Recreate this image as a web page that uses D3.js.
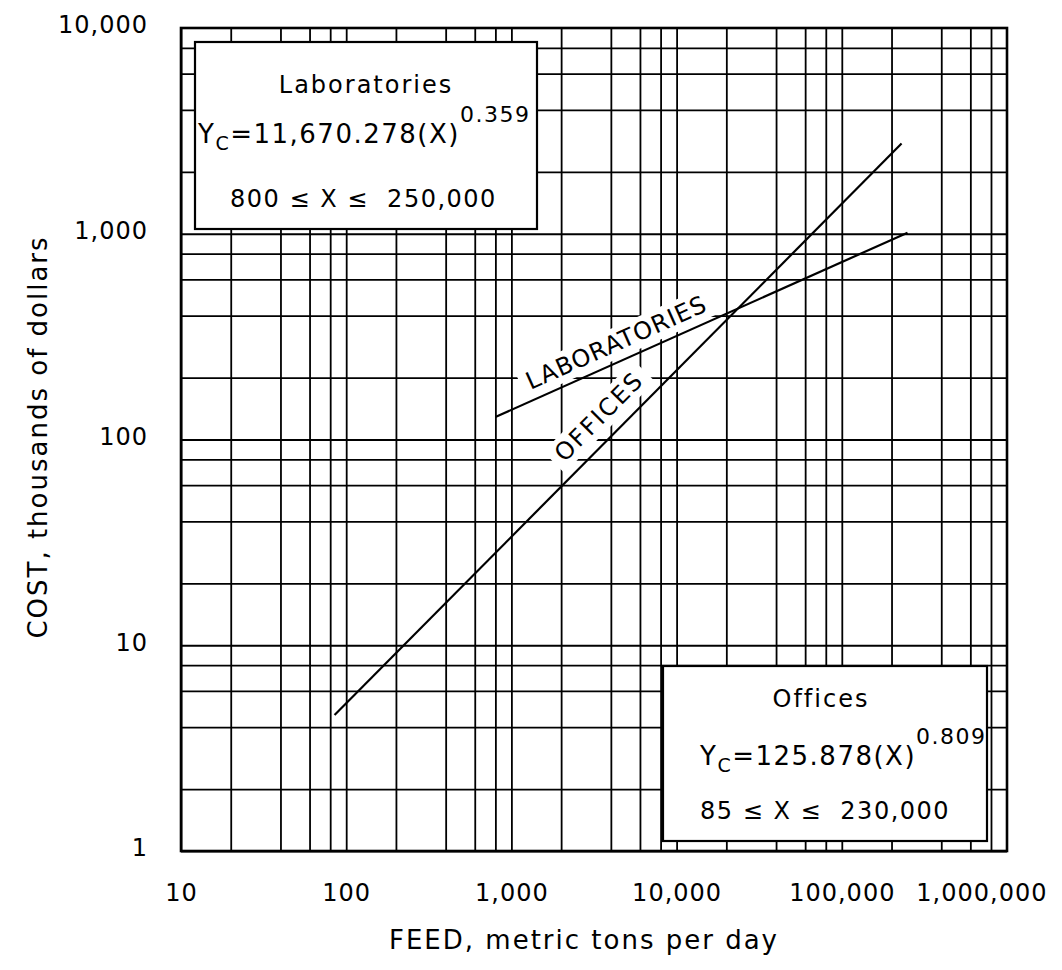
<!DOCTYPE html>
<html>
<head>
<meta charset="utf-8">
<script src="https://cdn.jsdelivr.net/npm/d3@7"></script>
<style>
  body { margin: 0; background: #fff; }
  text { font-family: "DejaVu Sans", sans-serif; fill: #000; }
</style>
</head>
<body>
<svg id="chart" width="1062" height="970"></svg>
<script>
// decade labels on both axes
var xTicks = [10, 100, 1000, 10000, 100000, 1000000];
var yTicks = [1, 10, 100, 1000, 10000];
// grid lines inside each decade
var gridSteps = [1, 2, 4, 6, 8];

// end points of the two straight (log-log) cost lines, [feed, cost]
var labPoints = [[800, 128.6], [250000, 1012]];
var officePoints = [[85, 4.58], [230000, 2743]];

// box texts
var boxTitles = ["Laboratories", "Offices"];
var boxCoefs = ["11,670.278", "125.878"];
var boxExps = ["0.359", "0.809"];
var boxLow = ["800", "85"];
var boxHigh = ["250,000", "230,000"];
var lineNames = ["LABORATORIES", "OFFICES"];

var svg = d3.select("#chart");
var plotL = 181, plotR = 1007, plotT = 28, plotB = 851;

var x = d3.scaleLog().domain([10, 1000000]).range([plotL, plotR]);
var y = d3.scaleLog().domain([1, 10000]).range([plotB, plotT]);

var gridX = [], gridY = [];
xTicks.forEach(function(d, i) {
    if (i < xTicks.length - 1) gridSteps.forEach(function(m) { gridX.push(d * m); });
});
yTicks.forEach(function(d, i) {
    if (i < yTicks.length - 1) gridSteps.forEach(function(m) { gridY.push(d * m); });
});

// grid
var gx = svg.append("g")
    .attr("transform", "translate(0," + plotB + ")")
    .call(d3.axisBottom(x).tickValues(gridX).tickSize(-(plotB - plotT)).tickFormat(""));
var gy = svg.append("g")
    .attr("transform", "translate(" + plotL + ",0)")
    .call(d3.axisLeft(y).tickValues(gridY).tickSize(-(plotR - plotL)).tickFormat(""));
[gx, gy].forEach(function(g) {
    g.select(".domain").remove();
    g.selectAll("line").attr("stroke", "#000").attr("stroke-width", 1.8);
});

// frame
svg.append("rect")
    .attr("x", plotL).attr("y", plotT)
    .attr("width", plotR - plotL).attr("height", plotB - plotT)
    .attr("fill", "none").attr("stroke", "#000").attr("stroke-width", 2.6);

// tick labels
var xl = svg.append("g")
    .attr("transform", "translate(0," + plotB + ")")
    .call(d3.axisBottom(x).tickValues(xTicks).tickSize(0).tickFormat(d3.format(",")));
xl.select(".domain").remove();
xl.selectAll("text")
    .attr("y", 41).attr("dy", "0.36em")
    .attr("font-family", "DejaVu Sans").attr("font-size", 24)
    .attr("letter-spacing", 1).attr("fill", "#000");
xl.selectAll(".tick").filter(function(d) { return d === 1000000; })
    .select("text").attr("text-anchor", "end").attr("x", 1047 - x(1000000));

var yl = svg.append("g")
    .attr("transform", "translate(" + plotL + ",0)")
    .call(d3.axisLeft(y).tickValues(yTicks).tickSize(0).tickFormat(d3.format(",")));
yl.select(".domain").remove();
yl.selectAll("text")
    .attr("x", -33).attr("dy", "0.2em")
    .attr("font-family", "DejaVu Sans").attr("font-size", 24)
    .attr("letter-spacing", 1).attr("fill", "#000");

// axis titles
svg.append("text")
    .attr("x", 584).attr("y", 949)
    .attr("text-anchor", "middle")
    .attr("font-size", 26).attr("letter-spacing", 2)
    .text("FEED, metric tons per day");
svg.append("text")
    .attr("transform", "translate(47,437) rotate(-90)")
    .attr("text-anchor", "middle")
    .attr("font-size", 26).attr("letter-spacing", 2)
    .text("COST, thousands of dollars");

// white patches behind the line labels break the grid
var series = [
    { pts: labPoints, name: lineNames[0], at: 4800, off: 19, ls: 1 },
    { pts: officePoints, name: lineNames[1], at: 4236, off: 23, ls: 2 }
];
var patchLayer = svg.append("g");
var lineLayer = svg.append("g");
var labelLayer = svg.append("g");

series.forEach(function(s) {
    var x0 = x(s.pts[0][0]), y0 = y(s.pts[0][1]);
    var x1 = x(s.pts[1][0]), y1 = y(s.pts[1][1]);
    var a = Math.atan2(y1 - y0, x1 - x0);
    var px = x(s.at), py = y0 + (px - x0) * (y1 - y0) / (x1 - x0);
    var cx = px + Math.sin(a) * s.off, cy = py - Math.cos(a) * s.off;
    var tr = "translate(" + cx + "," + cy + ") rotate(" + (a * 180 / Math.PI) + ")";
    var t = labelLayer.append("text")
        .attr("transform", tr)
        .attr("text-anchor", "middle").attr("dy", "0.36em")
        .attr("font-size", 24).attr("letter-spacing", s.ls)
        .text(s.name);
    var bb = t.node().getBBox();
    patchLayer.append("rect")
        .attr("transform", tr)
        .attr("x", bb.x - 7).attr("y", bb.y - 1)
        .attr("width", bb.width + 14).attr("height", bb.height + 2)
        .attr("fill", "#fff");
});

// cost lines
var line = d3.line().x(function(d) { return x(d[0]); }).y(function(d) { return y(d[1]); });
lineLayer.selectAll("path")
    .data([labPoints, officePoints])
    .enter().append("path")
    .attr("d", line)
    .attr("fill", "none").attr("stroke", "#000").attr("stroke-width", 2.2);

// equation boxes
var boxes = [
    { x: 195, y: 42, w: 342, h: 187, title: 366, eqX: 198, lowX: 230, tY: 51, eY: 101, rY: 165 },
    { x: 663, y: 666, w: 324, h: 175, title: 821, eqX: 700, lowX: 700, tY: 41, eY: 99, rY: 153 }
];
boxes.forEach(function(b, i) {
    svg.append("rect")
        .attr("x", b.x).attr("y", b.y).attr("width", b.w).attr("height", b.h)
        .attr("fill", "#fff").attr("stroke", "#000").attr("stroke-width", 2.2);
    svg.append("text")
        .attr("x", b.title).attr("y", b.y + b.tY)
        .attr("text-anchor", "middle")
        .attr("font-size", 24).attr("letter-spacing", 2)
        .text(boxTitles[i]);
    var eq = svg.append("text")
        .attr("x", b.eqX).attr("y", b.y + b.eY)
        .attr("font-size", 26).attr("letter-spacing", 1.5);
    eq.append("tspan").text("Y");
    eq.append("tspan").attr("font-size", 19).attr("dy", 7).text("C");
    eq.append("tspan").attr("dy", -7).text("=" + boxCoefs[i] + "(X)");
    eq.append("tspan").attr("font-size", 22).attr("dy", -21).text(boxExps[i]);
    svg.append("text")
        .attr("x", b.lowX).attr("y", b.y + b.rY)
        .attr("font-size", 24).attr("letter-spacing", 1.5)
        .attr("xml:space", "preserve")
        .text(boxLow[i] + " ≤ X ≤  " + boxHigh[i]);
});
</script>
</body>
</html>
